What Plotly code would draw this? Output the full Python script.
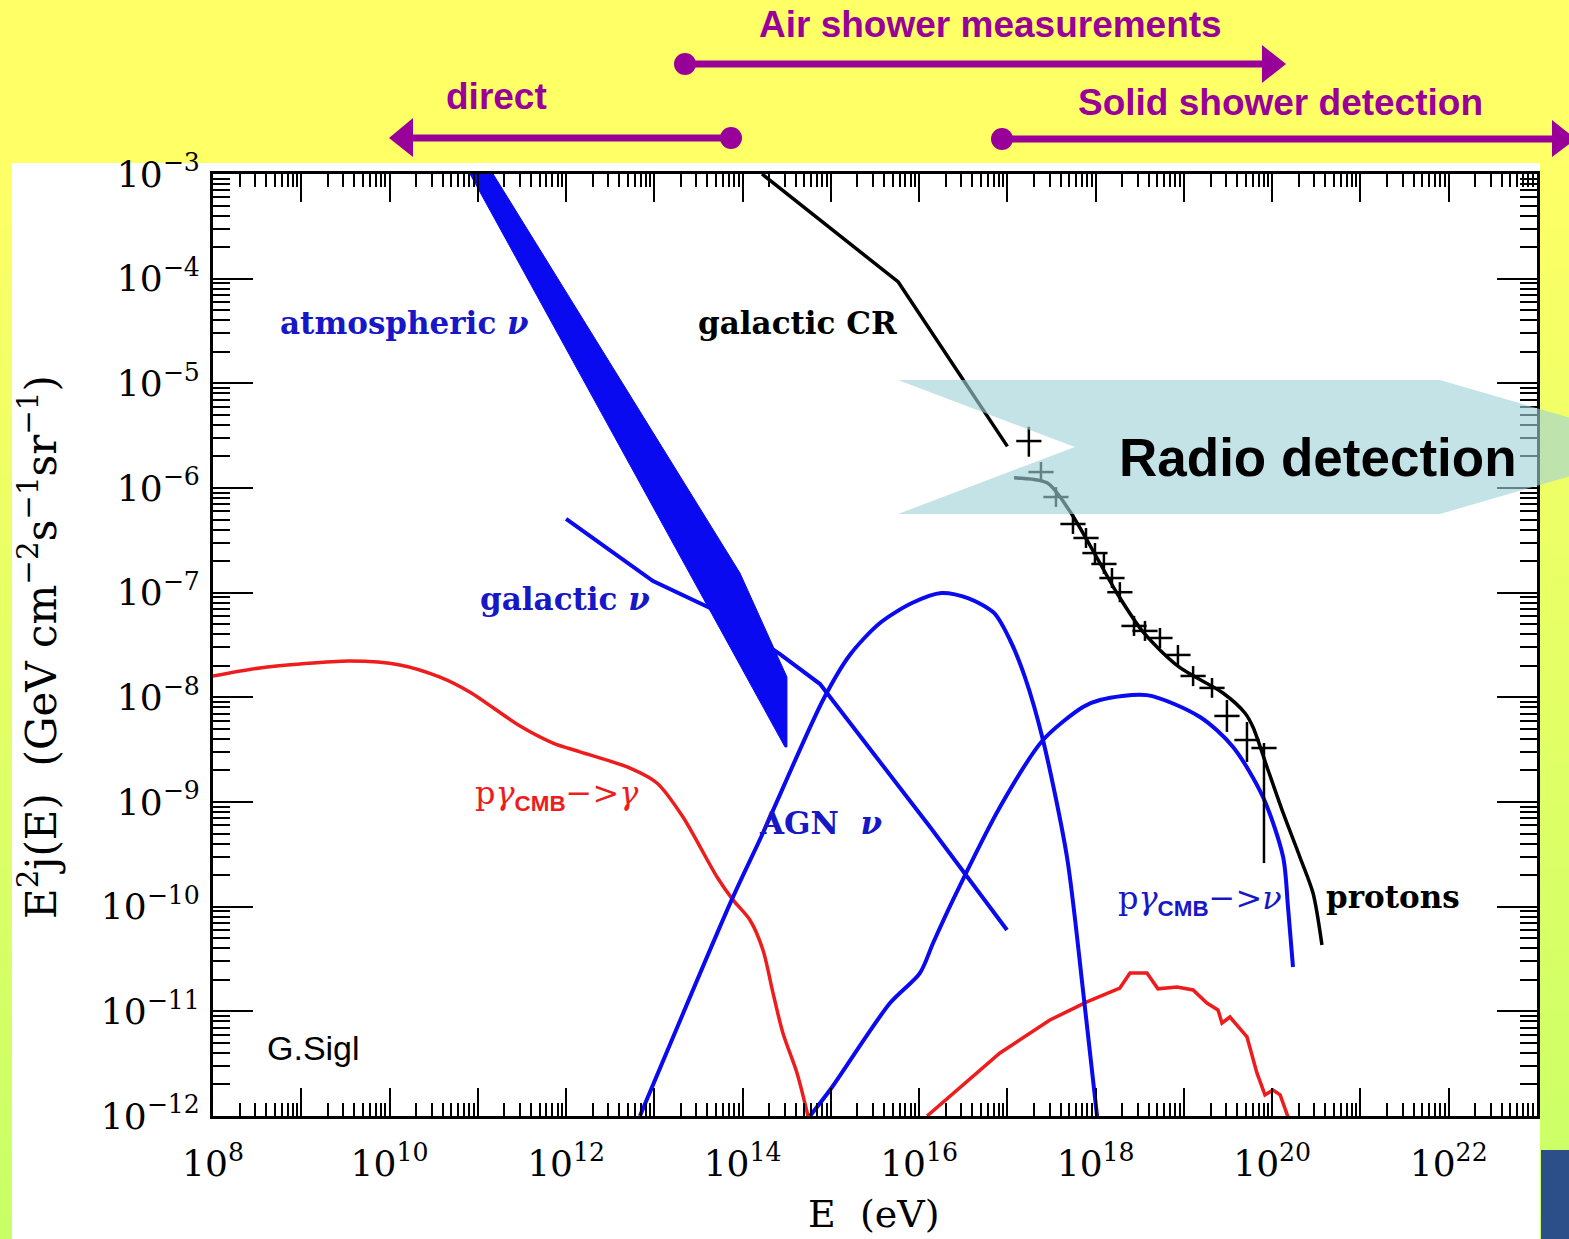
import plotly.graph_objects as go

# ---------------- data (E in eV, E^2 j(E) in GeV cm^-2 s^-1 sr^-1) ----------------
gal_cr_E = [1.66e14, 5.8e15, 1.0e17]
gal_cr_F = [1.0e-3, 9.3e-5, 2.5e-6]

protons_E = [1.19e17, 2.81e17, 4.99e17, 8.85e17, 1.74e18, 3.52e18, 8.79e18, 2.77e19,
             4.91e19, 6.05e19, 8.73e19, 1.33e20, 2.06e20, 2.90e20, 3.66e20]
protons_F = [1.25e-6, 1.12e-6, 6.17e-7, 2.73e-7, 9.93e-8, 4.12e-8, 1.95e-8, 1.10e-8,
             7.08e-9, 5.21e-9, 2.16e-9, 7.86e-10, 2.98e-10, 1.35e-10, 4.31e-11]

cr_data_E = [1.75e17, 2.40e17, 3.55e17, 5.53e17, 7.77e17, 9.82e17, 1.24e18, 1.53e18, 1.88e18,
             2.72e18, 3.62e18, 5.35e18, 8.55e18, 1.27e19, 2.08e19, 3.07e19, 5.18e19, 8.07e19]
cr_data_F = [2.81e-6, 1.42e-6, 8.20e-7, 4.53e-7, 3.33e-7, 2.39e-7, 1.88e-7, 1.38e-7, 1.01e-7,
             4.81e-8, 4.31e-8, 3.69e-8, 2.54e-8, 1.60e-8, 1.23e-8, 6.64e-9, 3.91e-9, 3.28e-9]
cr_data_hi = [3.85e-6, 1.77e-6, 1.02e-6, 5.64e-7, 4.15e-7, 2.98e-7, 2.34e-7, 1.72e-7, 1.26e-7,
              6.0e-8, 5.37e-8, 4.6e-8, 3.16e-8, 1.99e-8, 1.53e-8, 9.44e-9, 5.81e-9, 3.66e-9]
cr_data_lo = [1.99e-6, 1.14e-6, 6.6e-7, 3.64e-7, 2.67e-7, 1.92e-7, 1.51e-7, 1.11e-7, 8.1e-8,
              3.86e-8, 3.46e-8, 2.96e-8, 2.04e-8, 1.28e-8, 9.9e-9, 4.67e-9, 2.41e-9, 2.61e-10]

# atmospheric neutrino band: upper edge then lower edge (polygon)
atm_up_E = [1.49e11, 9.33e13, 3.18e14, 3.18e14]
atm_up_F = [1.0e-3, 1.54e-7, 1.56e-8, 3.36e-9]
atm_lo_E = [3.02e14, 8.17e10]
atm_lo_F = [3.36e-9, 1.0e-3]

gal_nu_E = [1.0e12, 9.66e12, 4.27e13, 2.65e14, 7.54e14, 1.33e16, 9.89e16]
gal_nu_F = [5.06e-7, 1.29e-7, 7.14e-8, 2.59e-8, 1.34e-8, 5.77e-10, 5.98e-11]

agn_nu_E = [6.87e12, 7.52e13, 1.70e14, 8.15e14, 1.64e15, 3.60e15, 8.30e15, 1.79e16, 3.57e16,
            7.05e16, 1.07e17, 1.58e17, 2.53e17, 4.73e17, 7.18e17, 1.04e18]
agn_nu_F = [1.0e-12, 1.16e-10, 5.06e-10, 9.44e-9, 2.54e-8, 5.13e-8, 7.96e-8, 9.93e-8, 8.89e-8,
            6.40e-8, 3.53e-8, 1.56e-8, 3.91e-9, 2.98e-10, 1.60e-11, 0.98e-12]

pg_nu_E = [5.80e14, 9.77e14, 4.68e15, 1.02e16, 1.44e16, 2.42e16, 8.24e16, 2.53e17, 7.18e17,
           1.12e18, 3.81e18, 1.52e19, 3.60e19, 7.85e19, 1.33e20, 1.51e20, 1.72e20]
pg_nu_F = [1.0e-12, 1.77e-12, 1.20e-11, 2.32e-11, 4.50e-11, 1.16e-10, 8.95e-10, 3.91e-9, 8.09e-9,
           9.44e-9, 1.05e-8, 6.49e-9, 3.36e-9, 1.12e-9, 2.98e-10, 9.93e-11, 2.65e-11]

pg_gam1_E = [1e8, 3.40e8, 9.68e8, 3.56e9, 1.31e10, 3.73e10, 8.17e10, 3.01e11, 7.11e11, 1.44e12,
             5.30e12, 1.07e13, 2.11e13, 5.13e13, 7.78e13, 1.21e14, 1.70e14, 2.21e14, 2.86e14,
             4.13e14, 5.51e14]
pg_gam1_F = [1.60e-8, 1.91e-8, 2.08e-8, 2.22e-8, 2.04e-8, 1.56e-8, 1.12e-8, 5.32e-9, 3.66e-9,
             3.01e-9, 2.11e-9, 1.52e-9, 7.19e-10, 1.92e-10, 1.16e-10, 7.46e-11, 3.86e-11, 1.50e-11,
             6.21e-12, 2.58e-12, 1.0e-12]

pg_gam2_E = [1.23e16, 8.24e16, 3.03e17, 7.96e17, 1.88e18, 2.45e18, 3.81e18, 5.08e18, 8.34e18,
             1.27e19, 1.82e19, 2.43e19, 2.70e19, 3.32e19, 5.18e19, 6.71e19, 8.28e19, 1.02e20,
             1.23e20, 1.51e20]
pg_gam2_F = [1.0e-12, 4.00e-12, 8.26e-12, 1.23e-11, 1.67e-11, 2.32e-11, 2.32e-11, 1.64e-11,
             1.71e-11, 1.60e-11, 1.20e-11, 1.03e-11, 7.74e-12, 8.83e-12, 5.69e-12, 2.58e-12,
             1.59e-12, 1.77e-12, 1.59e-12, 0.98e-12]

x_exponents = list(range(8, 24))
y_exponents = list(range(-12, -2))
x_tick_text = ["10<sup>%d</sup>" % n if n % 2 == 0 and n < 23 else "" for n in x_exponents]
y_tick_text = ["10<sup>\u2212%d</sup>" % (-n) for n in y_exponents]

# ---------------- layout geometry (pixels of the page) ----------------
W, H = 1569, 1239
ML, MR, MT, MB = 213, 32, 174, 123
PW, PH = W - ML - MR, H - MT - MB


def px(x):
    return (x - ML) / PW


def py(y):
    return (H - MB - y) / PH


BLUE = "#0a0af0"
BLUE_TXT = "#1717c8"
RED = "#ee1c1c"
PURPLE = "#990099"
SERIF = "DejaVu Serif"
SANS = "Liberation Sans, Arial"

fig = go.Figure()


def line(E, F, color, width, smooth=False):
    ln = dict(color=color, width=width)
    if smooth:
        ln.update(shape="spline", smoothing=0.8)
    fig.add_trace(go.Scatter(x=E, y=F, mode="lines", line=ln,
                             hoverinfo="skip", showlegend=False))


line(pg_gam1_E, pg_gam1_F, RED, 3.5, smooth=True)
line(pg_gam2_E, pg_gam2_F, RED, 3.5)
line(gal_nu_E, gal_nu_F, BLUE, 4)
fig.add_trace(go.Scatter(x=atm_up_E + atm_lo_E, y=atm_up_F + atm_lo_F, mode="lines",
                         fill="toself", fillcolor=BLUE, line=dict(color=BLUE, width=1),
                         hoverinfo="skip", showlegend=False))
line(agn_nu_E, agn_nu_F, BLUE, 4, smooth=True)
line(pg_nu_E, pg_nu_F, BLUE, 4, smooth=True)
line(gal_cr_E, gal_cr_F, "black", 3.5)
line(protons_E, protons_F, "black", 3.5, smooth=True)
fig.add_trace(go.Scatter(
    x=cr_data_E, y=cr_data_F, mode="markers",
    marker=dict(symbol="line-ew", size=18, line=dict(color="black", width=2.5)),
    error_y=dict(type="data", symmetric=False,
                 array=[h - f for h, f in zip(cr_data_hi, cr_data_F)],
                 arrayminus=[f - l for f, l in zip(cr_data_F, cr_data_lo)],
                 color="black", thickness=2.5, width=0),
    hoverinfo="skip", showlegend=False))

# ---------------- shapes ----------------
shapes = []
N = 60
for i in range(N):
    y0, y1 = H * i / N, H * (i + 1) / N
    t = min(max(((y0 + y1) / 2 - 150) / (H - 150), 0), 1)
    r = int(round(255 - 55 * t))
    shapes.append(dict(type="rect", xref="paper", yref="paper", layer="below",
                       x0=px(0), x1=px(W), y0=py(y1 + 1), y1=py(y0),
                       fillcolor="rgb(%d,255,102)" % r, line=dict(width=0)))
shapes.append(dict(type="rect", xref="paper", yref="paper", layer="below",
                   x0=px(12), x1=px(1540), y0=py(H + 2), y1=py(163),
                   fillcolor="white", line=dict(width=0)))
shapes.append(dict(type="rect", xref="paper", yref="paper", layer="below",
                   x0=px(1541), x1=px(W + 2), y0=py(H + 2), y1=py(1150),
                   fillcolor="#2c4f8a", line=dict(width=0)))


def seg(x0, y0, x1, y1, w):
    shapes.append(dict(type="line", xref="paper", yref="paper", layer="above",
                       x0=px(x0), y0=py(y0), x1=px(x1), y1=py(y1),
                       line=dict(color=PURPLE, width=w)))


def dot(cx, cy, r):
    shapes.append(dict(type="circle", xref="paper", yref="paper", layer="above",
                       x0=px(cx - r), x1=px(cx + r), y0=py(cy + r), y1=py(cy - r),
                       fillcolor=PURPLE, line=dict(width=0)))


def poly(pts, color, opacity=1.0):
    path = "M " + " L ".join("%f,%f" % (px(a), py(b)) for a, b in pts) + " Z"
    shapes.append(dict(type="path", xref="paper", yref="paper", layer="above", path=path,
                       fillcolor=color, opacity=opacity, line=dict(width=0)))


# Air shower measurements
seg(685, 64, 1265, 64, 7)
dot(685, 64, 11)
poly([(1262, 45), (1286, 64), (1262, 83)], PURPLE)
# direct
seg(731, 138, 410, 138, 7)
dot(731, 138, 11)
poly([(413, 118), (389, 138), (413, 157)], PURPLE)
# Solid shower detection
seg(1002, 139, 1555, 139, 7)
dot(1002, 139, 11)
poly([(1552, 120), (1576, 139), (1552, 157)], PURPLE)
# Radio detection arrow
poly([(898, 380), (1440, 380), (1670, 447), (1440, 514), (898, 514), (1075, 447)],
     "rgb(160,210,217)", 0.62)

# ---------------- annotations ----------------
ann = []


def text(t, x, y, size, color, family, **kw):
    d = dict(text=t, x=px(x), y=py(y), xref="paper", yref="paper", showarrow=False,
             xanchor="center", yanchor="middle",
             font=dict(size=size, color=color, family=family))
    d.update(kw)
    ann.append(d)


text("<b>Air shower measurements</b>", 990, 25, 37, PURPLE, SANS)
text("<b>direct</b>", 496, 97, 37, PURPLE, SANS)
text("<b>Solid shower detection</b>", 1280, 102, 37, PURPLE, SANS)
text("<b>Radio detection</b>", 1318, 457, 53, "black", SANS)

LBL = 31
text("<b>atmospheric <i>\u03bd</i></b>", 404, 323, LBL, BLUE_TXT, SERIF)
text("<b>galactic CR</b>", 797, 323, LBL, "black", SERIF)
text("<b>galactic <i>\u03bd</i></b>", 565, 599, LBL, BLUE_TXT, SERIF)
cmb = '<sub><b><span style="font-family:Liberation Sans">CMB</span></b></sub>'
text("p<i>\u03b3</i>" + cmb + "\u2212><i>\u03b3</i>", 557, 795, 32, RED, SERIF)
text("<b>AGN\u00a0\u00a0<i>\u03bd</i></b>", 820, 823, LBL, BLUE_TXT, SERIF)
text("p<i>\u03b3</i>" + cmb + "\u2212><i>\u03bd</i>", 1200, 900, 32, BLUE_TXT, SERIF)
text("<b>protons</b>", 1393, 897, LBL, "black", SERIF)
text("G.Sigl", 313, 1048, 34, "black", SANS)

text("E\u00a0\u00a0(eV)", 873, 1214, 38, "black", SERIF)
text("E<sup>2</sup>j(E)\u00a0\u00a0(GeV cm<sup>\u22122</sup>s<sup>\u22121</sup>sr<sup>\u22121</sup>)",
     38, 647, 42, "black", SERIF, textangle=-90)

x_minor = [m * 10.0 ** n for n in range(8, 23) for m in range(2, 10)]
y_minor = [m * 10.0 ** n for n in range(-12, -3) for m in range(2, 10)]

axis_common = dict(type="log", tickmode="array", ticks="inside", tickwidth=2,
                   tickcolor="black", showline=True, linecolor="black", linewidth=3,
                   mirror="ticks", showgrid=False, zeroline=False,
                   tickfont=dict(family=SERIF, size=36, color="black"))

fig.update_layout(
    width=W, height=H, autosize=False,
    margin=dict(l=ML, r=MR, t=MT, b=MB, pad=0),
    paper_bgcolor="rgb(255,255,102)", plot_bgcolor="white",
    xaxis=dict(range=[8, 23], tickvals=[10.0 ** n for n in x_exponents], ticktext=x_tick_text,
               ticklen=28, ticklabelstandoff=14,
               minor=dict(tickmode="array", tickvals=x_minor, ticks="inside", ticklen=13,
                          tickwidth=1.5, tickcolor="black", showgrid=False),
               **axis_common),
    yaxis=dict(range=[-12, -3], tickvals=[10.0 ** n for n in y_exponents], ticktext=y_tick_text,
               ticklen=40, ticklabelstandoff=3,
               minor=dict(tickmode="array", tickvals=y_minor, ticks="inside", ticklen=17,
                          tickwidth=1.5, tickcolor="black", showgrid=False),
               **axis_common),
    shapes=shapes, annotations=ann, showlegend=False,
)

fig.write_html("out.html")
